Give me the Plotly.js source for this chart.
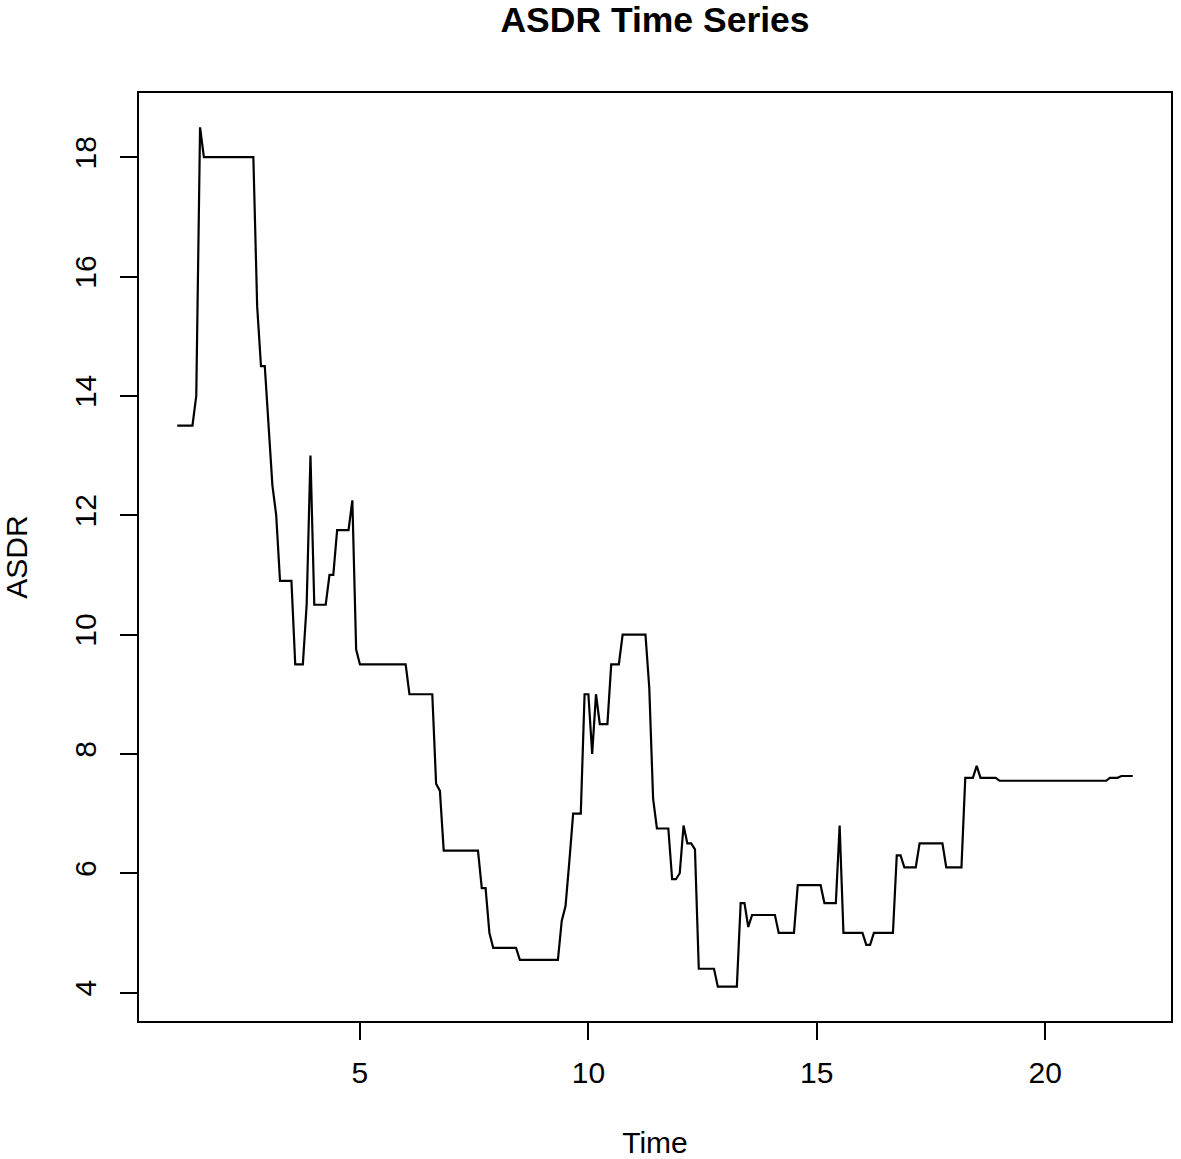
<!DOCTYPE html>
<html>
<head>
<meta charset="utf-8">
<script src="https://cdn.plot.ly/plotly-3.0.1.min.js"></script>
<style>
  html, body { margin: 0; padding: 0; background: #ffffff; }
  #chart { width: 1181px; height: 1159px; }
</style>
</head>
<body>
<div id="chart"></div>
<script>
// Monthly series starting at time 1 (frequency 12)
const startTime = 1;
const stepsPerUnit = 12;
const asdr = [
  13.5, 13.5, 13.5, 13.5, 13.5, 14, 18.5, 18, 18, 18, 18, 18,
  18, 18, 18, 18, 18, 18, 18, 18, 18, 15.5, 14.5, 14.5,
  13.5, 12.5, 12, 10.9, 10.9, 10.9, 10.9, 9.5, 9.5, 9.5, 10.5, 13,
  10.5, 10.5, 10.5, 10.5, 11, 11, 11.75, 11.75, 11.75, 11.75, 12.25, 9.75,
  9.5, 9.5, 9.5, 9.5, 9.5, 9.5, 9.5, 9.5, 9.5, 9.5, 9.5, 9.5,
  9.5, 9, 9, 9, 9, 9, 9, 9, 7.5, 7.38, 6.38, 6.38,
  6.38, 6.38, 6.38, 6.38, 6.38, 6.38, 6.38, 6.38, 5.75, 5.75, 5, 4.75,
  4.75, 4.75, 4.75, 4.75, 4.75, 4.75, 4.55, 4.55, 4.55, 4.55, 4.55, 4.55,
  4.55, 4.55, 4.55, 4.55, 4.55, 5.2, 5.45, 6.2, 7, 7, 7, 9,
  9, 8, 9, 8.5, 8.5, 8.5, 9.5, 9.5, 9.5, 10, 10, 10,
  10, 10, 10, 10, 9.1, 7.25, 6.75, 6.75, 6.75, 6.75, 5.9, 5.9,
  6.0, 6.8, 6.5, 6.5, 6.4, 4.4, 4.4, 4.4, 4.4, 4.4, 4.1, 4.1,
  4.1, 4.1, 4.1, 4.1, 5.5, 5.5, 5.1, 5.3, 5.3, 5.3, 5.3, 5.3,
  5.3, 5.3, 5, 5, 5, 5, 5, 5.8, 5.8, 5.8, 5.8, 5.8,
  5.8, 5.8, 5.5, 5.5, 5.5, 5.5, 6.8, 5, 5, 5, 5, 5,
  5, 4.8, 4.8, 5, 5, 5, 5, 5, 5, 6.3, 6.3, 6.1,
  6.1, 6.1, 6.1, 6.5, 6.5, 6.5, 6.5, 6.5, 6.5, 6.5, 6.1, 6.1,
  6.1, 6.1, 6.1, 7.6, 7.6, 7.6, 7.8, 7.6, 7.6, 7.6, 7.6, 7.6,
  7.55, 7.55, 7.55, 7.55, 7.55, 7.55, 7.55, 7.55, 7.55, 7.55, 7.55, 7.55,
  7.55, 7.55, 7.55, 7.55, 7.55, 7.55, 7.55, 7.55, 7.55, 7.55, 7.55, 7.55,
  7.55, 7.55, 7.55, 7.55, 7.55, 7.6, 7.6, 7.6, 7.63, 7.63, 7.63, 7.63
];
const xTicks = [5, 10, 15, 20];
const yTicks = [4, 6, 8, 10, 12, 14, 16, 18];

const FONT = 'Liberation Sans, Arial, sans-serif';

const trace = {
  type: 'scatter',
  mode: 'lines',
  y: asdr,
  x0: startTime,
  dx: 1 / stepsPerUnit,
  line: { color: '#000000', width: 2.2 },
  hoverinfo: 'x+y',
  showlegend: false
};

const axisCommon = {
  showgrid: false,
  zeroline: false,
  showline: true,
  mirror: true,
  linecolor: '#000000',
  linewidth: 2,
  ticks: 'outside',
  ticklen: 17,
  tickwidth: 2,
  tickcolor: '#000000',
  tickfont: { family: FONT, size: 30, color: '#000000' },
  automargin: false
};

const layout = {
  width: 1181,
  height: 1159,
  paper_bgcolor: '#ffffff',
  plot_bgcolor: '#ffffff',
  margin: { l: 139, r: 10, t: 93, b: 138 },
  font: { family: FONT, color: '#000000' },
  title: {
    text: '<b>ASDR Time Series</b>',
    font: { family: FONT, size: 35.5, color: '#000000' },
    x: 0.5, xref: 'paper', xanchor: 'center',
    y: 1 - 20 / 1159, yref: 'container', yanchor: 'middle'
  },
  xaxis: Object.assign({}, axisCommon, {
    range: [0.1633, 22.7533],
    tickmode: 'array',
    tickvals: xTicks,
    ticktext: xTicks.map(String),
    ticklabelstandoff: 7,
    title: { text: 'Time', font: { family: FONT, size: 30, color: '#000000' }, standoff: 48 }
  }),
  yaxis: Object.assign({}, axisCommon, {
    range: [3.524, 19.076],
    tickmode: 'array',
    tickvals: yTicks,
    ticktext: yTicks.map(String),
    tickangle: -90,
    ticklabelstandoff: 12,
    title: { text: 'ASDR', font: { family: FONT, size: 30, color: '#000000' }, standoff: 34 }
  })
};

Plotly.newPlot('chart', [trace], layout, { displayModeBar: false, staticPlot: true });
</script>
</body>
</html>
